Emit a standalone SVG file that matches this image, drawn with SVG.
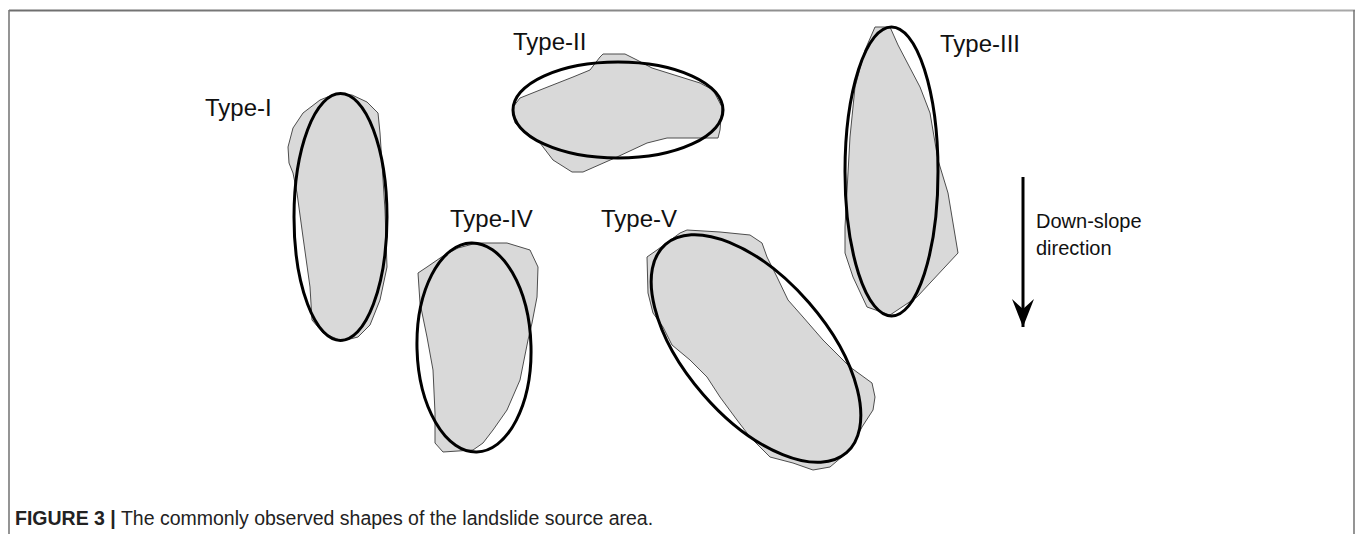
<svg xmlns="http://www.w3.org/2000/svg" width="1355" height="534" viewBox="0 0 1355 534">
  <style>
    .area { fill: #d9d9d9; stroke: #4d4d4d; stroke-width: 1; stroke-linejoin: round; }
    .fit { fill: none; stroke: #000; stroke-width: 3; }
    .label { font-family: "Liberation Sans", Arial, sans-serif; font-size: 24px; fill: #111; }
    .note { font-family: "Liberation Sans", Arial, sans-serif; font-size: 20px; fill: #111; }
    .caption { font-family: "Liberation Sans", Arial, sans-serif; font-size: 19.5px; fill: #222; }
    .frame { stroke: #7a7a7a; stroke-width: 1.6; fill: none; }
  </style>
  <defs>
    <linearGradient id="topRule" gradientUnits="userSpaceOnUse" x1="9" y1="0" x2="1355" y2="0">
      <stop offset="0" stop-color="#6e6e6e"/>
      <stop offset="1" stop-color="#a8a8a8"/>
    </linearGradient>
    <marker id="head" markerUnits="userSpaceOnUse" markerWidth="34" markerHeight="24" refX="30" refY="11" orient="auto" viewBox="0 0 34 22">
      <path d="M2,0 L30,11 L2,22 L12,11 Z" fill="#000"/>
    </marker>
  </defs>

  <!-- page frame -->
  <g id="frame">
    <line x1="9" y1="10.5" x2="1355" y2="10.5" stroke="url(#topRule)" stroke-width="1.8"/>
    <line class="frame" x1="9" y1="10" x2="9" y2="534"/>
    <line class="frame" x1="1354" y1="10" x2="1354" y2="534"/>
  </g>

  <!-- Type-I: elongated along the slope -->
  <g id="type-1">
    <polygon class="area" points="335,94 352,95 367,102 378,113 380,133 385,210 387,267 380,300 370,325 358,337 342,341 323,333 312,320 310,287 303,237 297,193 293,173 289,163 288,147 293,128 303,113 320,100"/>
    <ellipse class="fit" cx="340.5" cy="217" rx="46.5" ry="123.5"/>
    <text class="label" x="205" y="116">Type-I</text>
  </g>

  <!-- Type-II: elongated across the slope -->
  <g id="type-2">
    <polygon class="area" points="603,54 625,54 637,60 652,68 700,83 713,90 722,107 720,130 718,138 667,138 647,143 617,157 583,172 572,172 553,160 540,143 515,123 513,107 520,98 540,90 573,77 590,70 600,57"/>
    <ellipse class="fit" cx="618" cy="110" rx="105" ry="48"/>
    <text class="label" x="513" y="50">Type-II</text>
  </g>

  <!-- Type-III -->
  <g id="type-3">
    <polygon class="area" points="875,27 890,27 898,45 920,87 930,113 938,160 948,193 958,253 917,297 890,315 867,307 853,277 845,253 845,227 850,137 855,87 865,50"/>
    <ellipse class="fit" cx="891.5" cy="171.5" rx="46.5" ry="144.5"/>
    <text class="label" x="940" y="52">Type-III</text>
  </g>

  <!-- Type-IV -->
  <g id="type-4">
    <polygon class="area" points="443,256 458,248 477,243 507,243 530,250 538,267 537,297 532,323 528,340 520,380 507,410 493,430 483,443 473,450 443,452 435,443 435,413 433,370 427,337 420,303 418,273 427,267"/>
    <ellipse class="fit" cx="474" cy="347.5" rx="57" ry="104.5" transform="rotate(-1.5 474 347.5)" stroke-width="3.6"/>
    <text class="label" x="450" y="227">Type-IV</text>
  </g>

  <!-- Type-V: oblique to the slope -->
  <g id="type-5">
    <polygon class="area" points="687,230 720,232 750,235 762,243 767,257 777,277 788,300 803,317 823,340 850,367 872,383 875,397 873,410 862,427 850,450 830,467 813,470 793,463 770,457 750,437 737,420 720,397 707,377 690,360 672,345 663,327 653,313 648,293 647,257 657,250 680,233"/>
    <ellipse class="fit" cx="756" cy="348.5" rx="138" ry="70" transform="rotate(49 756 348.5)"/>
    <text class="label" x="601" y="227">Type-V</text>
  </g>

  <!-- slope direction indicator -->
  <g id="connectors">
    <line x1="1023" y1="177" x2="1023" y2="327" stroke="#000" stroke-width="3" marker-end="url(#head)"/>
  </g>
  <g id="direction-note">
    <text class="note" x="1036" y="228">Down-slope</text>
    <text class="note" x="1036" y="255">direction</text>
  </g>

  <!-- caption -->
  <g id="caption">
    <text class="caption" x="15" y="525"><tspan font-weight="bold">FIGURE 3 |</tspan> The commonly observed shapes of the landslide source area.</text>
  </g>
</svg>
